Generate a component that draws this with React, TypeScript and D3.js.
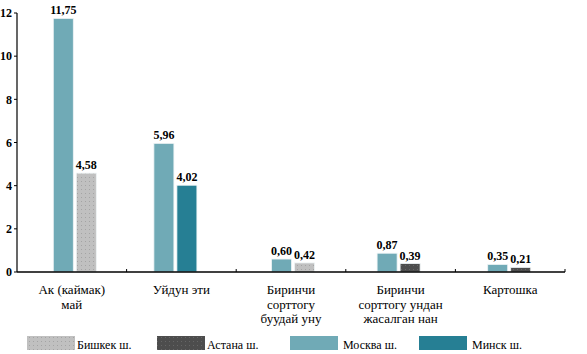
import React from "react";
import * as d3 from "d3";

const categories = [
  ["Ак (каймак)", "май"],
  ["Уйдун эти"],
  ["Биринчи", "сорттогу", "буудай уну"],
  ["Биринчи", "сорттогу ундан", "жасалган нан"],
  ["Картошка"],
];
const seriesNames = ["Бишкек ш.", "Астана ш.", "Москва ш.", "Минск ш."];
const colors = ["#c0c0c0", "#4d4d4d", "#70aab6", "#267f94"];

// Moscow bar first, then the second city of each pair
const moscowValues = [11.75, 5.96, 0.6, 0.87, 0.35];
const pairSeries = [0, 3, 0, 1, 1];
const pairValues = [4.58, 4.02, 0.42, 0.39, 0.21];
const yTicks = [0, 2, 4, 6, 8, 10, 12];

// small shifts so each pair sits where it does in the original
const nudge = [3, -6, 2, -2, -1];

const FONT = "Liberation Serif";
const left = 17, right = 565, top = 13, bottom = 272;
const barW = 20, gap = 3;

export default function App() {
  const x = d3.scaleBand<number>().domain(d3.range(categories.length)).range([left, right]);
  const y = d3.scaleLinear().domain([0, 12]).range([bottom, top]);
  const fills = ["url(#dotLight)", "url(#dotDark)", colors[2], colors[3]];
  const fmt = (v: number) => v.toFixed(2).replace(".", ",");

  const bars = categories.flatMap((_, i) => {
    const cx = (x(i) as number) + x.bandwidth() / 2 + nudge[i];
    return [
      { key: i + "m", s: 2, v: moscowValues[i], x0: cx - gap / 2 - barW },
      { key: i + "p", s: pairSeries[i], v: pairValues[i], x0: cx + gap / 2 },
    ];
  });
  const catTicks = d3.range(1, categories.length + 1).map(i =>
    i < categories.length ? (x(i) as number) : right);
  const legendX = [27, 157, 290, 419];

  return (
    <svg width={587} height={354}
      style={{ position: "absolute", left: 0, top: 0, background: "#fff", fontFamily: FONT }}>
      <defs>
        {[["dotLight", "#c0c0c0", "#a4a4a4"], ["dotDark", "#4d4d4d", "#666"]].map(([id, bg, fg]) => (
          <pattern key={id} id={id} width={4} height={4} patternUnits="userSpaceOnUse">
            <rect width={4} height={4} fill={bg} />
            <rect x={1} y={1} width={1} height={1} fill={fg} />
          </pattern>
        ))}
      </defs>

      {/* y axis */}
      <line x1={left} x2={left} y1={top} y2={bottom} stroke="#000" strokeWidth={1.2} />
      {yTicks.map(t => (
        <g key={t}>
          <line x1={left - 3} x2={left} y1={y(t)} y2={y(t)} stroke="#000" />
          <text x={left - 5} y={y(t)} dy="0.35em" textAnchor="end" fontSize={12}
            fontWeight="bold">{t}</text>
        </g>
      ))}

      {/* bars */}
      {bars.map(b => (
        <g key={b.key}>
          <rect x={b.x0} y={y(b.v)} width={barW} height={bottom - y(b.v)} fill={fills[b.s]}
            stroke="#eef4f5" strokeWidth={0.8} />
          <text x={b.x0 + barW / 2} y={y(b.v) - 4} textAnchor="middle" fontSize={12}
            fontWeight="bold">{fmt(b.v)}</text>
        </g>
      ))}

      {/* x axis */}
      <line x1={left} x2={right} y1={bottom} y2={bottom} stroke="#000" strokeWidth={1.4} />
      {catTicks.map(tx => (
        <line key={tx} x1={tx} x2={tx} y1={bottom - 3} y2={bottom} stroke="#000" />
      ))}
      {categories.map((lines, i) => (
        <text key={i} textAnchor="middle" fontSize={13}>
          {lines.map((l, k) => (
            <tspan key={k} x={(x(i) as number) + x.bandwidth() / 2} y={294 + k * 14.5}>{l}</tspan>
          ))}
        </text>
      ))}

      {/* legend */}
      {seriesNames.map((name, i) => (
        <g key={name}>
          <rect x={legendX[i]} y={336} width={48} height={14} fill={fills[i]} />
          <text x={legendX[i] + 50 + (i >= 2 ? 3 : 0)} y={349} fontSize={12}>{name}</text>
        </g>
      ))}
    </svg>
  );
}
